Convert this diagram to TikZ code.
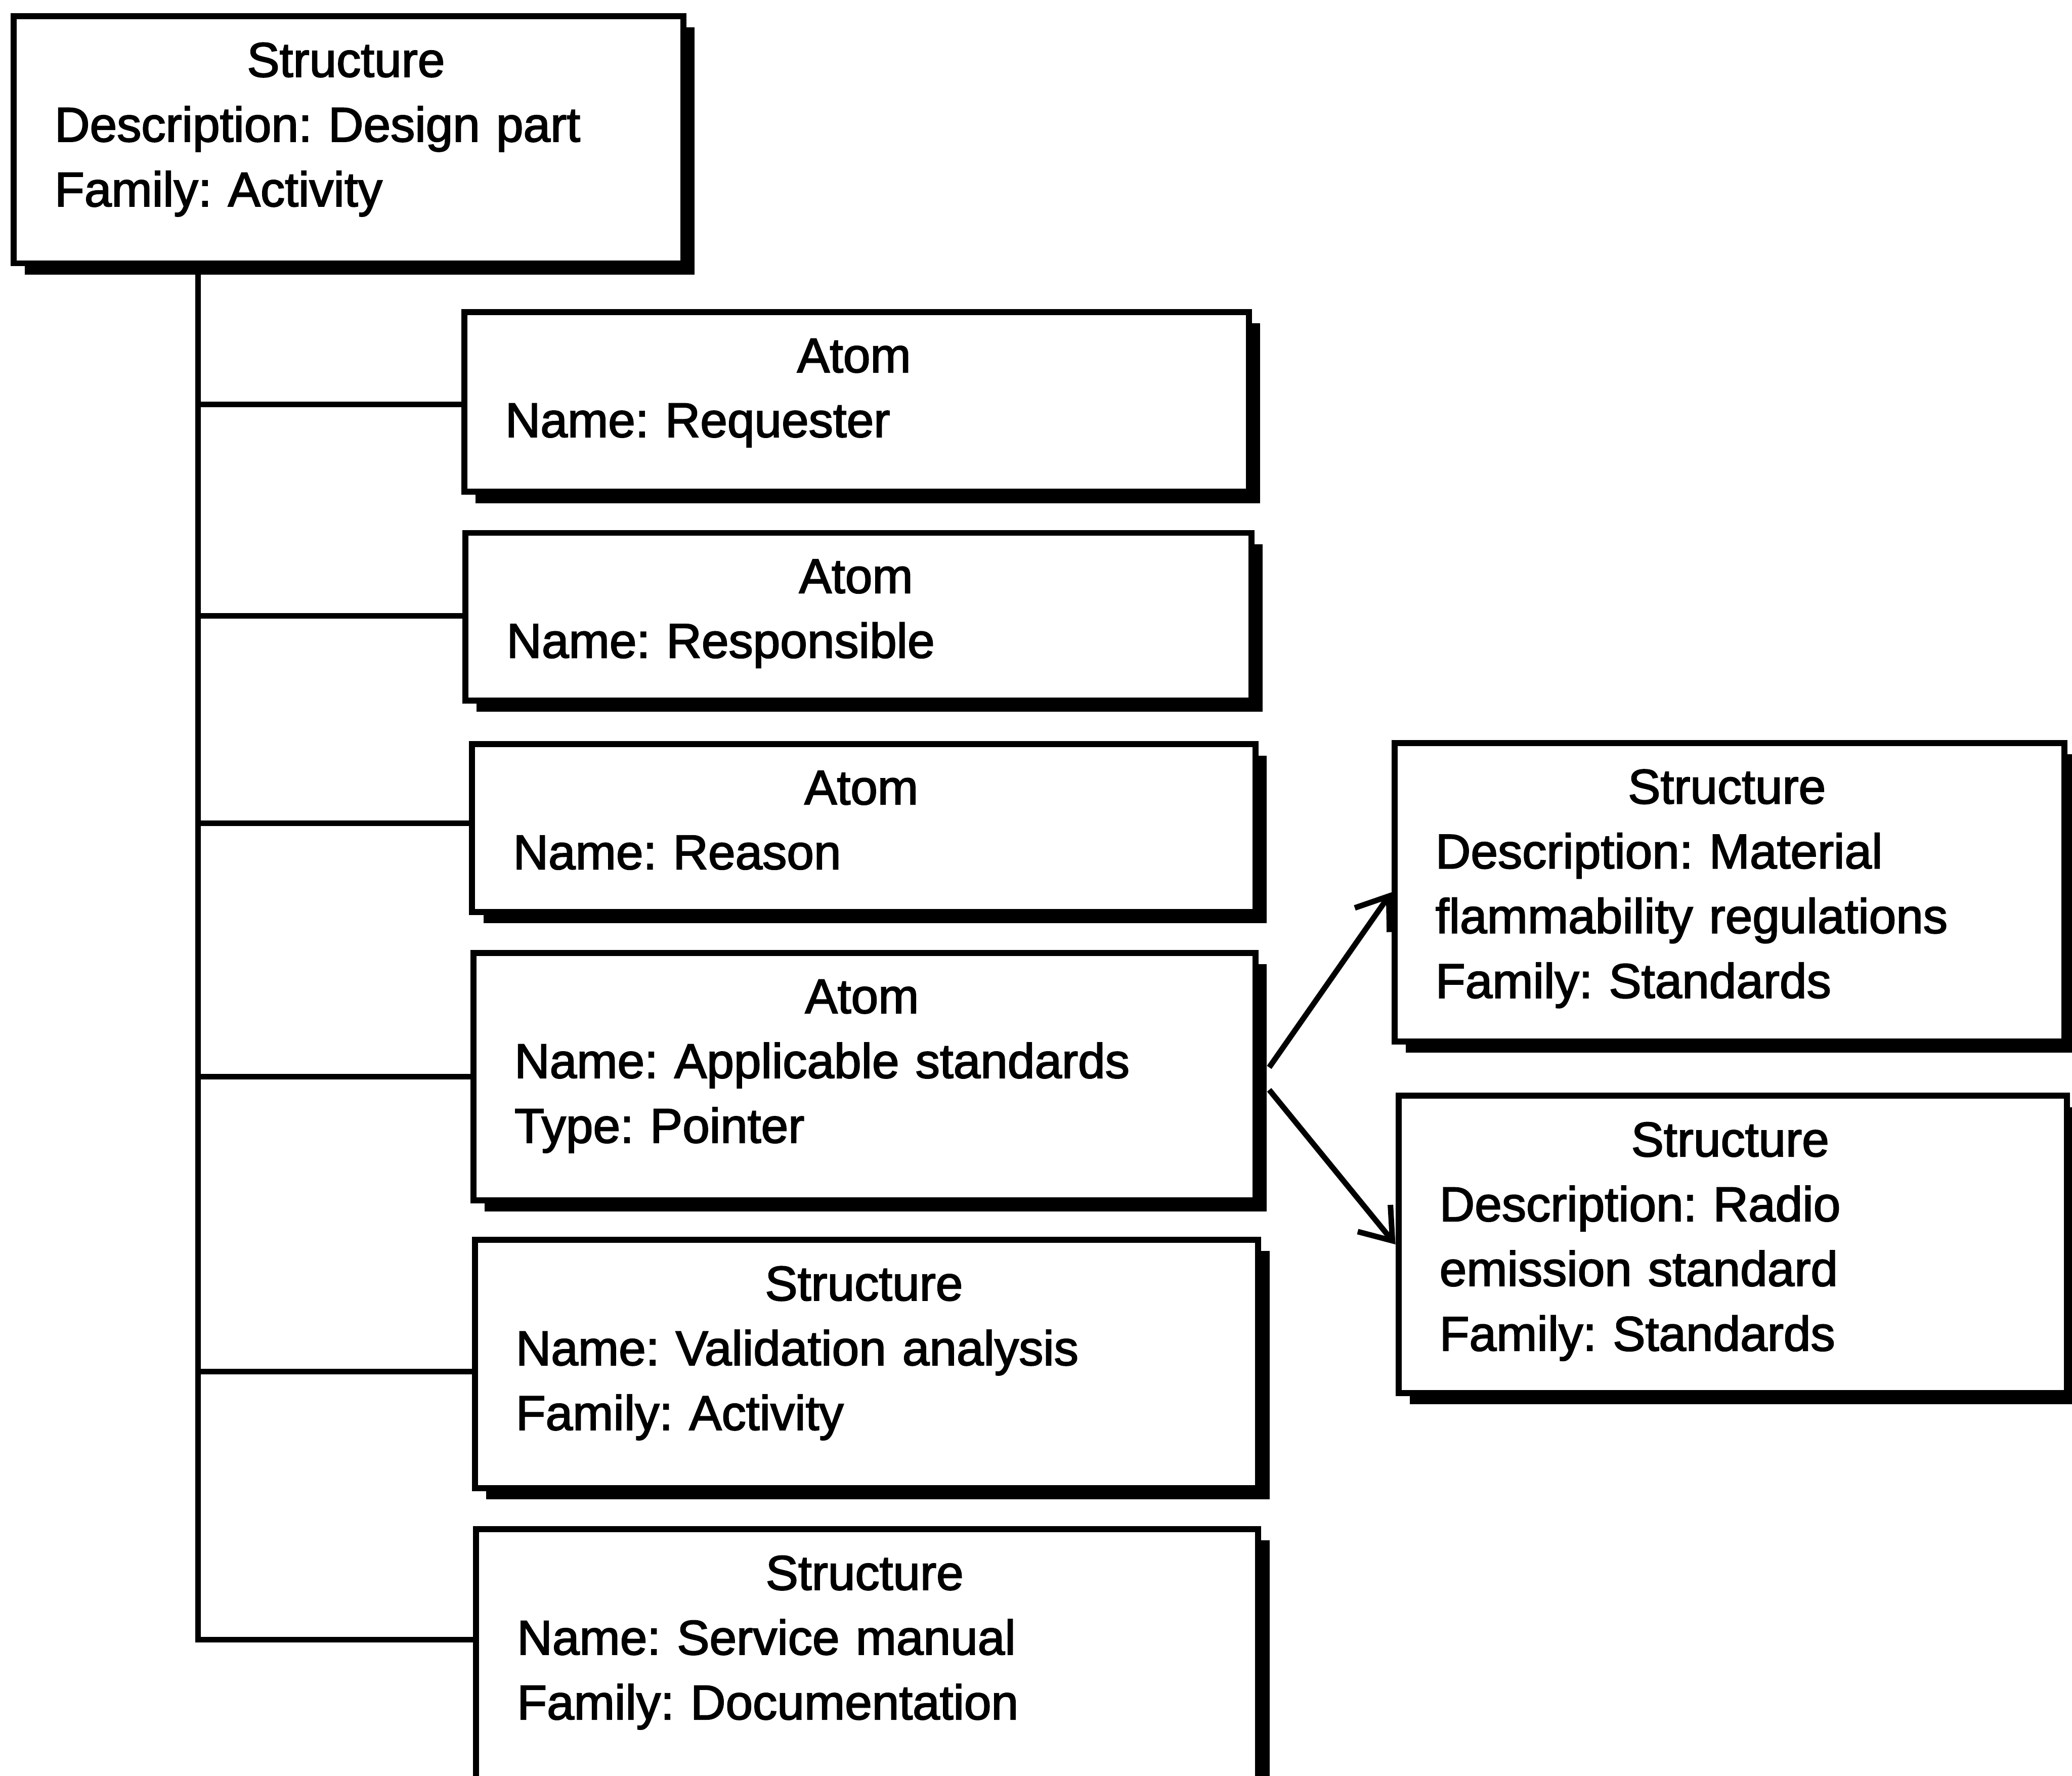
\documentclass[tikz,border=0pt]{standalone}
\usepackage{fontspec}
\setmainfont{Liberation Sans}[FakeBold=2.2]
\usetikzlibrary{arrows.meta,shadows}
\newcommand\ttl[1]{\hspace*{\fill}#1\hspace*{\fill}\null}
\begin{document}
\frenchspacing
\begin{tikzpicture}[x=0.02cm,y=-0.02cm,
  box/.style={draw, line width=2.6pt, fill=white, anchor=north west, inner sep=0pt,
    drop shadow={shadow xshift=0.17cm, shadow yshift=-0.17cm, opacity=1, fill=black}},
  txt/.style={anchor=north west, inner sep=0pt, align=left,
    font=\fontsize{21}{27.9}\selectfont\frenchspacing},
  link/.style={line width=2.4pt},
  ptr/.style={line width=2.4pt, -{Straight Barb[length=0.44cm,width=0.64cm,line width=2.4pt]}}]
\useasboundingbox (0,0) rectangle (1568,1344);
\clip (0,0) rectangle (1568,1344);

% boxes
\node[box, minimum width=10.14cm, minimum height=3.74cm] (top) at (8,10) {};
\node[box, minimum width=11.88cm, minimum height=2.72cm] (req) at (349,234) {};
\node[box, minimum width=11.90cm, minimum height=2.54cm] (resp) at (350,401) {};
\node[box, minimum width=11.86cm, minimum height=2.54cm] (reas) at (355,561) {};
\node[box, minimum width=11.84cm, minimum height=3.74cm] (app) at (356,719) {};
\node[box, minimum width=11.86cm, minimum height=3.76cm] (val) at (357,936) {};
\node[box, minimum width=11.84cm, minimum height=4.20cm] (svc) at (358,1155) {};
\node[box, minimum width=10.14cm, minimum height=4.52cm] (mat) at (1053,560) {};
\node[box, minimum width=10.12cm, minimum height=4.50cm] (rad) at (1056,827) {};

% box texts
\node[txt, text width=8.82cm] (top-t) at ([shift={(33,22)}]top.north west)
  {\ttl{Structure}\\Description: Design part\\Family: Activity};
\node[txt, text width=10.56cm] (req-t) at ([shift={(33,22)}]req.north west)
  {\ttl{Atom}\\Name: Requester};
\node[txt, text width=10.58cm] (resp-t) at ([shift={(33,22)}]resp.north west)
  {\ttl{Atom}\\Name: Responsible};
\node[txt, text width=10.54cm] (reas-t) at ([shift={(33,22)}]reas.north west)
  {\ttl{Atom}\\Name: Reason};
\node[txt, text width=10.52cm] (app-t) at ([shift={(33,22)}]app.north west)
  {\ttl{Atom}\\Name: Applicable standards\\Type: Pointer};
\node[txt, text width=10.54cm] (val-t) at ([shift={(33,22)}]val.north west)
  {\ttl{Structure}\\Name: Validation analysis\\Family: Activity};
\node[txt, text width=10.52cm] (svc-t) at ([shift={(33,22)}]svc.north west)
  {\ttl{Structure}\\Name: Service manual\\Family: Documentation};
\node[txt, text width=8.82cm] (mat-t) at ([shift={(33,22)}]mat.north west)
  {\ttl{Structure}\\Description: Material\\flammability regulations\\Family: Standards};
\node[txt, text width=8.80cm] (rad-t) at ([shift={(33,22)}]rad.north west)
  {\ttl{Structure}\\Description: Radio\\emission standard\\Family: Standards};

% tree connectors
\coordinate (trunk) at ([xshift=2.84cm]top.south west);
\coordinate (b1) at ([yshift=-1.44cm]req.north west);
\coordinate (b2) at ([yshift=-1.30cm]resp.north west);
\coordinate (b3) at ([yshift=-1.24cm]reas.north west);
\coordinate (b4) at ([yshift=-1.92cm]app.north west);
\coordinate (b5) at ([yshift=-2.04cm]val.north west);
\coordinate (b6) at ([yshift=-1.72cm]svc.north west);
\draw[link] (trunk) -- (trunk |- b6) -- (b6);
\foreach \b in {b1,b2,b3,b4,b5} \draw[link] (trunk |- \b) -- (\b);

% pointer arrows
\draw[ptr] ([shift={(8,-7)}]app.east) -- (mat.west);
\draw[ptr] ([shift={(8,10)}]app.east) -- (rad.west);
\end{tikzpicture}
\end{document}
